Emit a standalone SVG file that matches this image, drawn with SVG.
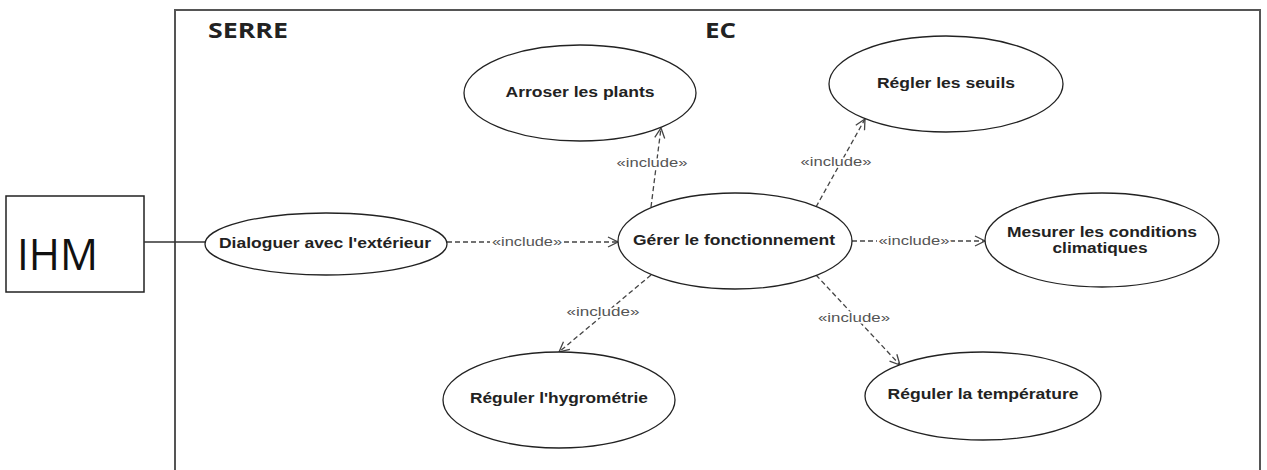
<svg xmlns="http://www.w3.org/2000/svg" width="1267" height="470" viewBox="0 0 1267 470">
  <style>
    .uc { fill: #fff; stroke: #222; stroke-width: 1.3; }
    .uct { font-family: "Liberation Sans", Arial, sans-serif; font-weight: bold; font-size: 14px; fill: #222; text-anchor: middle; }
    .dep { fill: none; stroke: #444; stroke-width: 1.3; stroke-dasharray: 5 3; }
    .lbl { font-family: "Liberation Sans", Arial, sans-serif; font-size: 13px; fill: #555; text-anchor: middle; paint-order: stroke; stroke: #fff; stroke-width: 3px; }
    .title { font-family: "Open Sans", "Liberation Sans", sans-serif; font-weight: bold; font-size: 21px; fill: #222; }
  </style>
  <defs>
    <marker id="open" viewBox="0 0 12 12" refX="11" refY="6" markerWidth="12" markerHeight="12" markerUnits="userSpaceOnUse" orient="auto">
      <path d="M1,1 L11,6 L1,11" fill="none" stroke="#444" stroke-width="1.3"/>
    </marker>
  </defs>
  <rect width="1267" height="470" fill="#fff"/>

  <g id="system">
    <path d="M175,472 V10 H1260 V472" fill="none" stroke="#555" stroke-width="2"/>
    <text class="title" x="208" y="38" textLength="80" lengthAdjust="spacingAndGlyphs">SERRE</text>
    <text class="title" x="705" y="38" textLength="31" lengthAdjust="spacingAndGlyphs">EC</text>
  </g>

  <g id="actor-ihm">
    <rect x="6" y="196" width="138" height="96" fill="#fff" stroke="#222" stroke-width="1.5"/>
    <text x="17" y="270" font-family="Open Sans, 'Liberation Sans', sans-serif" font-size="44" fill="#111" textLength="81" lengthAdjust="spacingAndGlyphs">IHM</text>
  </g>

  <g id="connectors">
    <line x1="144" y1="242" x2="205" y2="242" stroke="#333" stroke-width="1.3"/>
    <!-- Dialoguer -> Gerer -->
    <line class="dep" x1="447" y1="242" x2="490" y2="242"/>
    <line class="dep" x1="564" y1="242" x2="618" y2="242" marker-end="url(#open)"/>
    <text class="lbl" x="527" y="246" textLength="70" lengthAdjust="spacingAndGlyphs">«include»</text>
    <!-- Gerer -> Arroser -->
    <line class="dep" x1="651" y1="207" x2="661" y2="128" marker-end="url(#open)"/>
    <text class="lbl" x="652" y="167" textLength="71" lengthAdjust="spacingAndGlyphs">«include»</text>
    <!-- Gerer -> Regler les seuils -->
    <line class="dep" x1="816" y1="207" x2="865" y2="119" marker-end="url(#open)"/>
    <text class="lbl" x="836" y="166" textLength="71" lengthAdjust="spacingAndGlyphs">«include»</text>
    <!-- Gerer -> Mesurer -->
    <line class="dep" x1="852" y1="241" x2="877" y2="241"/>
    <line class="dep" x1="950" y1="241" x2="985" y2="241" marker-end="url(#open)"/>
    <text class="lbl" x="914" y="245" textLength="71" lengthAdjust="spacingAndGlyphs">«include»</text>
    <!-- Gerer -> Hygrometrie -->
    <line class="dep" x1="651" y1="275" x2="559" y2="352" marker-end="url(#open)"/>
    <text class="lbl" x="603" y="316" textLength="73" lengthAdjust="spacingAndGlyphs">«include»</text>
    <!-- Gerer -> Temperature -->
    <line class="dep" x1="816" y1="275" x2="900" y2="365" marker-end="url(#open)"/>
    <text class="lbl" x="854" y="322" textLength="72" lengthAdjust="spacingAndGlyphs">«include»</text>
  </g>

  <g id="uc-dialoguer">
    <ellipse class="uc" cx="326" cy="244" rx="121" ry="31"/>
    <text class="uct" x="325" y="248" textLength="212" lengthAdjust="spacingAndGlyphs">Dialoguer avec l'extérieur</text>
  </g>
  <g id="uc-gerer">
    <ellipse class="uc" cx="735" cy="241" rx="117" ry="48"/>
    <text class="uct" x="734" y="245" textLength="202" lengthAdjust="spacingAndGlyphs">Gérer le fonctionnement</text>
  </g>
  <g id="uc-arroser">
    <ellipse class="uc" cx="580" cy="93" rx="116" ry="48"/>
    <text class="uct" x="580" y="97" textLength="149" lengthAdjust="spacingAndGlyphs">Arroser les plants</text>
  </g>
  <g id="uc-seuils">
    <ellipse class="uc" cx="946" cy="84" rx="117" ry="48"/>
    <text class="uct" x="946" y="88" textLength="138" lengthAdjust="spacingAndGlyphs">Régler les seuils</text>
  </g>
  <g id="uc-mesurer">
    <ellipse class="uc" cx="1102" cy="240" rx="117" ry="47"/>
    <text class="uct" x="1102" y="237" textLength="190" lengthAdjust="spacingAndGlyphs">Mesurer les conditions</text>
    <text class="uct" x="1100" y="253" textLength="95" lengthAdjust="spacingAndGlyphs">climatiques</text>
  </g>
  <g id="uc-hygrometrie">
    <ellipse class="uc" cx="559" cy="400" rx="116" ry="48"/>
    <text class="uct" x="559" y="403" textLength="178" lengthAdjust="spacingAndGlyphs">Réguler l'hygrométrie</text>
  </g>
  <g id="uc-temperature">
    <ellipse class="uc" cx="983" cy="396" rx="118" ry="44"/>
    <text class="uct" x="983" y="399" textLength="191" lengthAdjust="spacingAndGlyphs">Réguler la température</text>
  </g>
</svg>
